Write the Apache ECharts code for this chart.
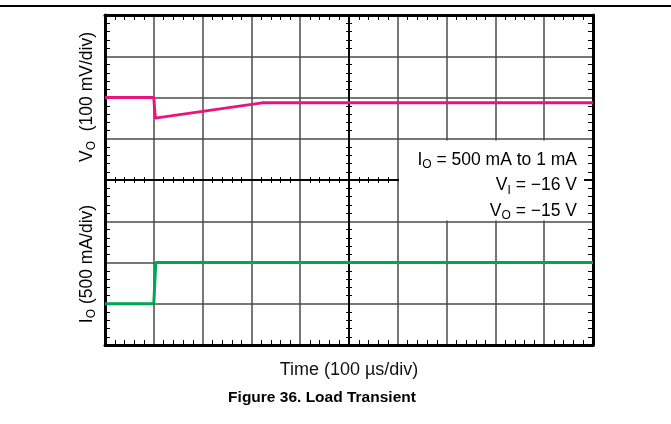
<!DOCTYPE html>
<html>

<head>
    <meta charset="utf-8">
    <title>Load Transient</title>
    <script src="https://cdn.jsdelivr.net/npm/echarts@6/dist/echarts.min.js"></script>
</head>

<body style="margin:0;background:#fff;">
    <div id="main" style="width: 671px;height:424px;"></div>
    <script type="text/javascript">
        // time base: 100 us per division, 10 divisions
        var timeVo = [0, 100, 103, 322, 1000];
        var voMv = [0, 0, -50, -13, -13];        // output voltage deviation, 100 mV/div
        var timeIo = [0, 100, 104, 1000];
        var ioMa = [1, 1, 500, 500];              // load current, 500 mA/div

        var xTicks = [0, 1000, 100];              // min, max, interval (us)
        var divTicks = [0, 8, 1];                 // vertical divisions

        var notes = [
            '{n|I}{s|O}{n| = 500 mA to 1 mA}',
            '{n|V}{s|I}{n| = \u221216 V}',
            '{n|V}{s|O}{n| = \u221215 V}'
        ];

        var myChart = echarts.init(document.getElementById('main'));

        var FONT = 'Liberation Sans, Arial, sans-serif';
        var richText = {
            n: { fontSize: 17.5, fontFamily: FONT, color: '#111' },
            s: { fontSize: 12, fontFamily: FONT, color: '#111', padding: [10, 0, 0, 0] }
        };
        var richAxis = {
            n: { fontSize: 17.5, fontFamily: FONT, color: '#111' },
            s: { fontSize: 12, fontFamily: FONT, color: '#111', padding: [10, 0, 0, 0] }
        };

        function frameX(pos, offset, inside, split, len, lineW) {
            return {
                type: 'value', position: pos, offset: offset,
                min: xTicks[0], max: xTicks[1], interval: xTicks[2],
                axisLine: { show: true, onZero: false, lineStyle: { color: '#000', width: lineW } },
                axisTick: { show: false, inside: inside },
                minorTick: { show: true, splitNumber: 5, length: len, lineStyle: { color: '#000', width: 1 } },
                axisLabel: { show: false },
                splitLine: { show: split, lineStyle: { color: '#4a4a4a', width: 1.5 } }
            };
        }

        function frameY(pos, offset, inside, split, len, lineW) {
            return {
                type: 'value', position: pos, offset: offset,
                min: divTicks[0], max: divTicks[1], interval: divTicks[2],
                axisLine: { show: true, onZero: false, lineStyle: { color: '#000', width: lineW } },
                axisTick: { show: false, inside: inside },
                minorTick: { show: true, splitNumber: 5, length: len, lineStyle: { color: '#000', width: 1 } },
                axisLabel: { show: false },
                splitLine: { show: split, lineStyle: { color: '#4a4a4a', width: 1.5 } }
            };
        }

        var notesGraphic = notes.map(function (t, i) {
            return {
                type: 'text', x: 577, y: 160 + i * 25.5, z: 101,
                style: { text: t, rich: richText, align: 'right', verticalAlign: 'middle' }
            };
        });

        var option = {
            animation: false,
            grid: { left: 105, right: 78, top: 15, bottom: 79 },
            xAxis: [
                frameX('bottom', 0, true, true, 5, 3),
                frameX('top', 0, true, false, 5, 3),
                frameX('bottom', -165, true, false, 3, 1.5),
                frameX('bottom', -165, false, false, 3, 1.5)
            ],
            yAxis: [
                frameY('left', 0, true, true, 5, 3),
                frameY('right', 0, true, false, 5, 3),
                frameY('left', -244, true, false, 3, 1.5),
                frameY('left', -244, false, false, 3, 1.5),
                { type: 'value', show: false, min: -600, max: 200, interval: 100 },
                { type: 'value', show: false, min: -500, max: 3500, interval: 500 }
            ],
            series: [
                {
                    type: 'line', xAxisIndex: 0, yAxisIndex: 4,
                    data: timeVo.map(function (t, i) { return [t, voMv[i]]; }),
                    symbol: 'none', z: 20,
                    lineStyle: { color: '#e8157f', width: 3 }
                },
                {
                    type: 'line', xAxisIndex: 0, yAxisIndex: 5,
                    data: timeIo.map(function (t, i) { return [t, ioMa[i]]; }),
                    symbol: 'none', z: 20,
                    lineStyle: { color: '#00a651', width: 3 }
                }
            ],
            graphic: [
                { type: 'line', shape: { x1: 0, y1: 6, x2: 671, y2: 6 }, style: { stroke: '#000', lineWidth: 2 } },
                { type: 'rect', shape: { x: 399, y: 140.5, width: 185, height: 80 }, style: { fill: '#fff' }, z: 100 },
                {
                    type: 'text', x: 87, y: 97, rotation: Math.PI / 2,
                    style: { text: '{n|V}{s|O}{n|  (100 mV/div)}', rich: richAxis, align: 'center', verticalAlign: 'middle' }
                },
                {
                    type: 'text', x: 87, y: 264, rotation: Math.PI / 2,
                    style: { text: '{n|I}{s|O}{n| (500 mA/div)}', rich: richAxis, align: 'center', verticalAlign: 'middle' }
                },
                {
                    type: 'text', x: 349, y: 370,
                    style: { text: 'Time (100 \u00b5s/div)', font: '18px ' + FONT, fill: '#111', align: 'center', verticalAlign: 'middle' }
                },
                {
                    type: 'text', x: 322, y: 398,
                    style: { text: 'Figure 36. Load Transient', font: 'bold 15.5px ' + FONT, fill: '#000', align: 'center', verticalAlign: 'middle' }
                }
            ].concat(notesGraphic)
        };

        myChart.setOption(option);
    </script>
</body>

</html>
